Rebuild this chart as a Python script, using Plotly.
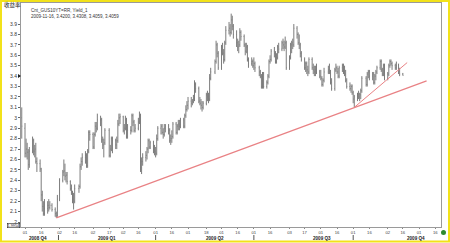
import pandas as pd
import plotly.graph_objects as go

series_name = "Cnt_GUS10YT=RR, Yield_1"
last_bar_text = "2009-11-16, 3.4200, 3.4308, 3.4059, 3.4059"
y_title = "收益率"
cursor_value = "1.9954"
first_day = "2008-11-28"
market_holidays = ["2008-12-25", "2009-01-01", "2009-01-19", "2009-02-16", "2009-05-25",
                   "2009-07-03", "2009-09-07", "2009-10-12", "2009-11-11"]

opens = [
    3.00,
    2.90,2.66,2.70,2.67,2.55,2.68,2.78,2.68,2.70,2.58,2.56,2.51,2.26,2.15,2.08,2.13,2.16,2.14,2.16,2.12,2.08,2.06,
    2.22,2.40,2.48,2.49,2.44,2.45,2.39,2.32,2.29,2.22,2.20,2.32,2.34,2.53,2.58,2.62,2.64,2.54,2.68,2.86,
    2.84,2.72,2.84,2.92,2.90,2.98,2.98,2.79,2.74,2.76,2.88,2.64,2.70,2.80,2.78,2.74,2.78,2.94,3.00,
    3.01,2.88,2.90,2.98,2.82,2.88,2.88,3.02,2.96,2.88,2.90,2.96,3.02,2.52,2.58,2.62,2.64,2.70,2.78,2.72,2.76,2.70,
    2.68,2.66,2.80,2.90,2.92,2.86,2.84,2.90,2.92,2.88,2.78,2.80,2.82,2.94,2.86,2.92,2.94,2.92,2.98,2.92,3.02,3.08,
    3.12,3.16,3.14,3.16,3.18,3.32,3.28,3.16,3.14,3.12,3.10,3.14,3.22,3.20,3.18,3.38,3.44,3.54,3.70,3.62,
    3.48,3.68,3.62,3.56,3.72,3.84,3.86,3.82,3.94,3.88,3.80,3.72,3.68,3.70,3.82,3.78,3.70,3.64,3.68,3.56,3.52,3.54,
    3.50,3.52,3.48,3.44,3.40,3.30,3.42,3.30,3.34,3.40,3.54,3.56,3.64,3.62,3.54,3.58,3.68,3.66,3.72,3.70,3.68,3.72,
    3.48,3.58,3.70,3.72,3.70,3.86,3.80,3.72,3.70,3.62,3.56,3.48,3.52,3.46,3.44,3.56,3.48,3.46,3.44,3.46,3.44,
    3.40,3.38,3.32,3.36,3.44,3.46,3.44,3.34,3.28,3.46,3.48,3.44,3.40,3.48,3.50,3.44,3.42,3.36,3.30,3.28,3.30,
    3.24,3.18,3.20,3.22,3.20,3.22,3.26,3.38,3.32,3.42,3.44,3.40,3.42,3.34,3.40,3.44,3.48,3.54,3.46,3.42,3.50,
    3.38,3.42,3.50,3.54,3.52,3.50,3.48,3.50,3.44,3.4200,
]
highs = [
    3.10,
    2.95,2.80,2.76,2.70,2.72,2.82,2.80,2.74,2.76,2.62,2.60,2.52,2.30,2.20,2.22,2.20,2.22,2.20,2.18,2.14,2.10,2.26,
    2.42,2.50,2.60,2.56,2.48,2.48,2.40,2.36,2.30,2.28,2.36,2.36,2.56,2.62,2.66,2.68,2.66,2.70,2.88,2.88,
    2.86,2.86,2.96,2.96,3.04,3.02,3.00,2.82,2.80,2.90,2.90,2.74,2.82,2.82,2.80,2.82,2.98,3.04,3.04,
    3.02,2.94,3.02,3.00,2.94,2.92,3.04,3.04,2.98,2.94,3.00,3.06,3.04,2.62,2.66,2.68,2.72,2.80,2.80,2.78,2.78,2.74,
    2.72,2.84,2.92,2.94,2.94,2.90,2.94,2.94,2.94,2.90,2.84,2.88,2.96,2.96,2.94,2.98,2.98,3.00,3.00,3.04,3.12,3.16,
    3.20,3.20,3.18,3.22,3.36,3.34,3.30,3.20,3.18,3.16,3.16,3.24,3.26,3.24,3.42,3.48,3.56,3.74,3.72,3.64,
    3.70,3.72,3.66,3.74,3.88,3.92,3.90,4.00,3.98,3.90,3.84,3.76,3.74,3.86,3.84,3.80,3.72,3.72,3.70,3.58,3.58,3.56,
    3.58,3.54,3.50,3.46,3.42,3.44,3.44,3.36,3.42,3.56,3.60,3.66,3.68,3.64,3.62,3.70,3.72,3.74,3.76,3.74,3.78,3.74,
    3.60,3.72,3.74,3.76,3.90,3.88,3.82,3.80,3.72,3.64,3.58,3.54,3.54,3.50,3.58,3.58,3.52,3.50,3.50,3.52,3.46,
    3.46,3.40,3.38,3.48,3.50,3.52,3.46,3.38,3.48,3.52,3.50,3.48,3.50,3.52,3.52,3.50,3.46,3.38,3.34,3.32,3.32,
    3.26,3.22,3.24,3.26,3.24,3.28,3.40,3.40,3.44,3.46,3.46,3.44,3.44,3.42,3.46,3.50,3.56,3.56,3.48,3.52,3.52,
    3.44,3.52,3.56,3.56,3.54,3.52,3.54,3.52,3.48,3.4308,
]
lows = [
    2.80,
    2.62,2.62,2.60,2.50,2.52,2.66,2.64,2.62,2.56,2.48,2.48,2.20,2.10,2.06,2.06,2.08,2.10,2.12,2.10,2.05,2.04,2.05,
    2.20,2.38,2.44,2.40,2.38,2.36,2.30,2.26,2.18,2.12,2.18,2.28,2.32,2.50,2.54,2.56,2.52,2.52,2.66,2.78,
    2.70,2.70,2.82,2.86,2.88,2.92,2.76,2.70,2.62,2.74,2.62,2.62,2.68,2.66,2.70,2.70,2.76,2.92,2.94,
    2.86,2.84,2.88,2.80,2.80,2.84,2.86,2.92,2.86,2.86,2.88,2.94,2.48,2.46,2.54,2.58,2.60,2.66,2.70,2.70,2.66,2.64,
    2.62,2.64,2.78,2.84,2.84,2.80,2.82,2.86,2.84,2.76,2.74,2.76,2.80,2.84,2.84,2.88,2.88,2.90,2.90,2.90,3.00,3.06,
    3.08,3.10,3.12,3.14,3.16,3.24,3.14,3.12,3.08,3.06,3.08,3.12,3.16,3.14,3.16,3.36,3.42,3.52,3.58,3.46,
    3.46,3.60,3.52,3.54,3.70,3.80,3.78,3.80,3.84,3.76,3.68,3.64,3.62,3.68,3.74,3.68,3.60,3.62,3.54,3.48,3.50,3.48,
    3.46,3.44,3.40,3.38,3.28,3.28,3.28,3.28,3.32,3.38,3.52,3.54,3.58,3.52,3.52,3.56,3.62,3.64,3.66,3.64,3.66,3.46,
    3.46,3.56,3.62,3.66,3.68,3.76,3.70,3.66,3.58,3.54,3.46,3.44,3.42,3.40,3.42,3.46,3.42,3.40,3.40,3.42,3.38,
    3.36,3.30,3.30,3.34,3.42,3.42,3.32,3.26,3.26,3.44,3.42,3.38,3.38,3.44,3.42,3.40,3.34,3.28,3.26,3.24,3.22,
    3.14,3.10,3.16,3.18,3.16,3.18,3.24,3.30,3.30,3.38,3.36,3.36,3.32,3.32,3.36,3.42,3.46,3.44,3.40,3.40,3.36,
    3.36,3.40,3.48,3.50,3.46,3.46,3.46,3.42,3.40,3.4059,
]
closes = [
    2.92,
    2.66,2.70,2.67,2.55,2.68,2.78,2.68,2.70,2.58,2.56,2.51,2.26,2.15,2.08,2.13,2.16,2.14,2.16,2.12,2.08,2.06,2.22,
    2.40,2.48,2.49,2.44,2.45,2.39,2.32,2.29,2.22,2.20,2.32,2.34,2.53,2.58,2.62,2.64,2.54,2.68,2.86,2.84,
    2.72,2.84,2.92,2.90,2.98,2.98,2.79,2.74,2.76,2.88,2.64,2.70,2.80,2.78,2.74,2.78,2.94,3.00,3.01,
    2.88,2.90,2.98,2.82,2.88,2.88,3.02,2.96,2.88,2.90,2.96,3.02,2.52,2.58,2.62,2.64,2.70,2.78,2.72,2.76,2.70,2.68,
    2.66,2.80,2.90,2.92,2.86,2.84,2.90,2.92,2.88,2.78,2.80,2.82,2.94,2.86,2.92,2.94,2.92,2.98,2.92,3.02,3.08,3.12,
    3.16,3.14,3.16,3.18,3.32,3.28,3.16,3.14,3.12,3.10,3.14,3.22,3.20,3.18,3.38,3.44,3.54,3.70,3.62,3.48,
    3.68,3.62,3.56,3.72,3.84,3.86,3.82,3.94,3.88,3.80,3.72,3.68,3.70,3.82,3.78,3.70,3.64,3.68,3.56,3.52,3.54,3.50,
    3.52,3.48,3.44,3.40,3.30,3.42,3.30,3.34,3.40,3.54,3.56,3.64,3.62,3.54,3.58,3.68,3.66,3.72,3.70,3.68,3.72,3.48,
    3.58,3.70,3.72,3.70,3.86,3.80,3.72,3.70,3.62,3.56,3.48,3.52,3.46,3.44,3.56,3.48,3.46,3.44,3.46,3.44,3.40,
    3.38,3.32,3.36,3.44,3.46,3.44,3.34,3.28,3.46,3.48,3.44,3.40,3.48,3.50,3.44,3.42,3.36,3.30,3.28,3.30,3.24,
    3.18,3.20,3.22,3.20,3.22,3.26,3.38,3.32,3.42,3.44,3.40,3.42,3.34,3.40,3.44,3.48,3.54,3.46,3.42,3.50,3.38,
    3.42,3.50,3.54,3.52,3.50,3.48,3.50,3.44,3.42,3.4059,
]
assert len(opens) == len(highs) == len(lows) == len(closes), (len(opens), len(highs), len(lows), len(closes))

# trend lines drawn on the chart
long_trend_dates = ["2008-12-30", "2009-12-08"]
long_trend_values = [2.04, 3.355]
short_trend_dates = ["2009-10-02", "2009-11-20"]
short_trend_values = [3.10, 3.53]

y_tick_labels = ["2", "2.1", "2.2", "2.3", "2.4", "2.5", "2.6", "2.7", "2.8", "2.9",
                 "3", "3.1", "3.2", "3.3", "3.4", "3.5", "3.6", "3.7", "3.8", "3.9"]
x_tick_dates = ["2008-12-01", "2008-12-16", "2009-01-02", "2009-01-16", "2009-02-02", "2009-02-17",
                "2009-03-02", "2009-03-16", "2009-04-01", "2009-04-16", "2009-05-01", "2009-05-18",
                "2009-06-01", "2009-06-16", "2009-07-01", "2009-07-16", "2009-08-03", "2009-08-17",
                "2009-09-01", "2009-09-16", "2009-10-01", "2009-10-16", "2009-11-02", "2009-11-16",
                "2009-12-01", "2009-12-16"]
x_tick_labels = ["01", "16", "02", "16", "02", "17", "02", "16", "01", "16", "01", "18", "01", "16",
                 "01", "16", "03", "17", "01", "16", "01", "16", "02", "16", "01", "16"]
quarter_names = ["2008 Q4", "2009 Q1", "2009 Q2", "2009 Q3", "2009 Q4"]
quarter_label_dates = ["2008-12-13", "2009-02-15", "2009-05-26", "2009-09-02", "2009-11-28"]
quarter_starts = ["2009-01-01", "2009-04-01", "2009-07-01", "2009-10-01"]

dates = pd.bdate_range(start=first_day, periods=len(closes), freq="C", holidays=market_holidays)

W, H = 450, 243
ML, MR, MT, MB = 21, 9, 3, 16
PW, PH = W - ML - MR, H - MT - MB


def px_x(px):
    return (px - ML) / PW


def px_y(py):
    return (H - MB - py) / PH


fig = go.Figure()
fig.add_trace(go.Ohlc(
    x=dates, open=opens, high=highs, low=lows, close=closes,
    increasing=dict(line=dict(color="#7c7c7c", width=1)),
    decreasing=dict(line=dict(color="#7c7c7c", width=1)),
    tickwidth=0.45, hoverinfo="skip", showlegend=False,
))
fig.add_trace(go.Scatter(x=long_trend_dates, y=long_trend_values, mode="lines",
                         line=dict(color="#e98285", width=1.2), hoverinfo="skip", showlegend=False))
fig.add_trace(go.Scatter(x=short_trend_dates, y=short_trend_values, mode="lines",
                         line=dict(color="#e98285", width=1.0), hoverinfo="skip", showlegend=False))

axis_font = dict(family="Liberation Sans, Arial, sans-serif", size=5, color="#333333")

fig.update_layout(
    width=W, height=H,
    margin=dict(l=ML, r=MR, t=MT, b=MB, pad=0),
    paper_bgcolor="white", plot_bgcolor="white",
    showlegend=False,
    xaxis=dict(
        type="date", range=["2008-11-27 07:00", "2009-12-21 08:00"],
        rangeslider=dict(visible=False),
        tickmode="array", tickvals=x_tick_dates, ticktext=x_tick_labels,
        ticks="outside", ticklen=1, tickcolor="#888888",
        tickfont=dict(family="Liberation Sans, Arial", size=4.2, color="#444444"),
        showgrid=False, zeroline=False, showline=True, linecolor="#9a9a9a", linewidth=1, mirror=True,
    ),
    yaxis=dict(
        range=[1.952, 4.102],
        tickmode="array", tickvals=[float(t) for t in y_tick_labels], ticktext=y_tick_labels,
        ticks="outside", ticklen=2, tickcolor="#666666", tickfont=axis_font,
        showgrid=False, zeroline=False, showline=True, linecolor="#9a9a9a", linewidth=1, mirror=True,
    ),
)

annotations = []
annotations.append(dict(x=px_x(2), y=px_y(5), xref="paper", yref="paper", xanchor="left", yanchor="middle",
                        text=y_title, showarrow=False,
                        font=dict(family="Noto Sans CJK SC", size=5.5, color="#222222")))
annotations.append(dict(x=px_x(29), y=px_y(10), xref="paper", yref="paper", xanchor="left", yanchor="middle",
                        text=series_name, showarrow=False,
                        font=dict(family="Liberation Sans, Arial", size=4.5, color="#333333")))
annotations.append(dict(x=px_x(29), y=px_y(16), xref="paper", yref="paper", xanchor="left", yanchor="middle",
                        text=last_bar_text, showarrow=False,
                        font=dict(family="Liberation Sans, Arial", size=4.5, color="#333333")))
annotations.append(dict(x=px_x(20), y=px_y(225.5), xref="paper", yref="paper", xanchor="right", yanchor="middle",
                        text=cursor_value, showarrow=False, bordercolor="#222222", borderwidth=0.6, borderpad=0,
                        bgcolor="white", font=dict(family="Liberation Sans, Arial", size=3.8, color="#222222")))
for name, d in zip(quarter_names, quarter_label_dates):
    annotations.append(dict(x=d, y=px_y(238.3), xref="x", yref="paper", xanchor="center", yanchor="middle",
                            text="<b>" + name + "</b>", showarrow=False,
                            font=dict(family="Liberation Sans, Arial", size=4.6, color="#222222")))
fig.update_layout(annotations=annotations)

shapes = []
for d in quarter_starts:
    shapes.append(dict(type="line", xref="x", yref="paper", x0=d, x1=d, y0=px_y(235), y1=px_y(240),
                       line=dict(color="#555555", width=1)))
# right-pointing price marker on the y axis
shapes.append(dict(type="path", xref="paper", yref="paper",
                   path=f"M {px_x(18)} {px_y(74)} L {px_x(21)} {px_y(76)} L {px_x(18)} {px_y(78)} Z",
                   fillcolor="#222222", line=dict(width=0)))
# green status dot
shapes.append(dict(type="circle", xref="paper", yref="paper", x0=px_x(441), x1=px_x(446),
                   y0=px_y(235), y1=px_y(230), fillcolor="#2e8b2e", line=dict(width=0)))
# yellow outer frame
shapes.append(dict(type="rect", xref="paper", yref="paper", x0=px_x(1), x1=px_x(449),
                   y0=px_y(241.5), y1=px_y(1), line=dict(color="#f2e21a", width=2), fillcolor="rgba(0,0,0,0)"))
fig.update_layout(shapes=shapes)

fig.write_html("out.html")
